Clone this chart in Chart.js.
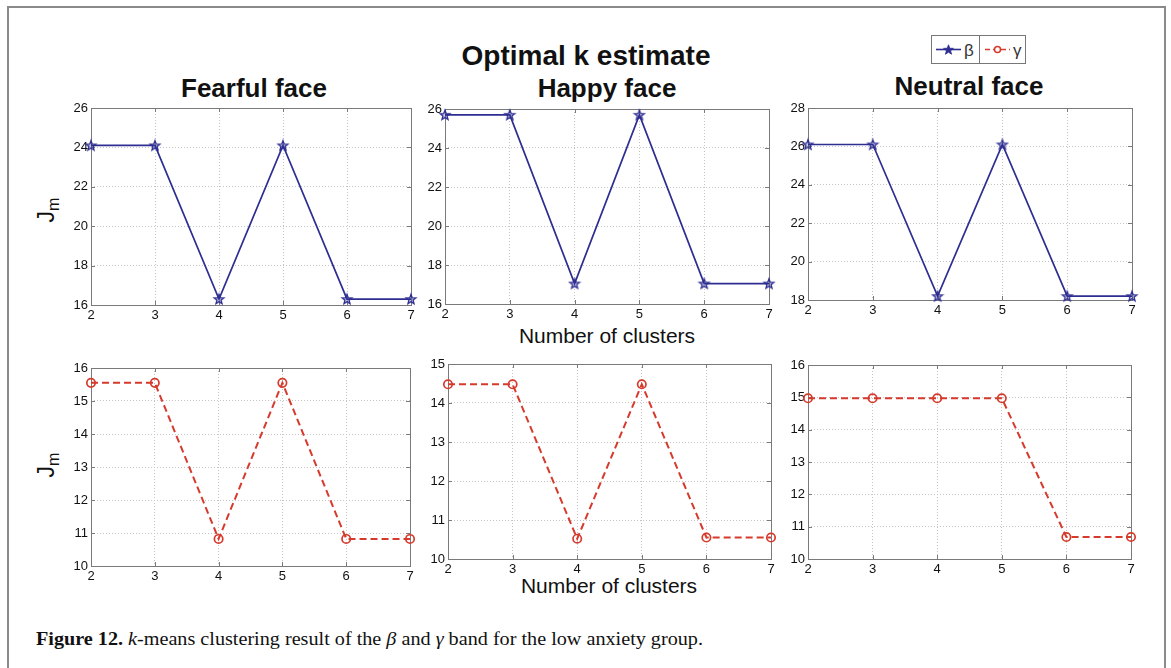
<!DOCTYPE html>
<html><head><meta charset="utf-8">
<script src="https://cdn.jsdelivr.net/npm/chart.js@4.4.0/dist/chart.umd.min.js"></script>
<style>
html,body{margin:0;padding:0;background:#fff;width:1171px;height:668px;overflow:hidden;}
#page{position:relative;width:1171px;height:668px;}
canvas{position:absolute;}
svg{position:absolute;left:0;top:0;}
</style></head><body><div id="page">
<svg width="1171" height="668" font-family="'Liberation Sans', Arial, sans-serif">
  <rect x="8" y="7" width="1157" height="720" fill="none" stroke="#8a8a8a" stroke-width="2"/>
  <text x="586" y="65" text-anchor="middle" font-size="28" font-weight="bold" fill="#111">Optimal k estimate</text>
  <text x="254" y="97" text-anchor="middle" font-size="26" font-weight="bold" fill="#111">Fearful face</text>
  <text x="607" y="97" text-anchor="middle" font-size="26" font-weight="bold" fill="#111">Happy face</text>
  <text x="969" y="95" text-anchor="middle" font-size="26" font-weight="bold" fill="#111">Neutral face</text>
  <text x="607" y="343" text-anchor="middle" font-size="21" fill="#111">Number of clusters</text>
  <text x="609" y="593" text-anchor="middle" font-size="21" fill="#111">Number of clusters</text>
  <text transform="translate(54,210) rotate(-90)" text-anchor="middle" font-size="23" fill="#111">J<tspan dy="5" font-size="16">m</tspan></text>
  <text transform="translate(54,465) rotate(-90)" text-anchor="middle" font-size="23" fill="#111">J<tspan dy="5" font-size="16">m</tspan></text>
  <!-- legend -->
  <rect x="931.5" y="35.5" width="94" height="28" fill="#fff" stroke="#777" stroke-width="1"/>
  <line x1="979.5" y1="35.5" x2="979.5" y2="63.5" stroke="#777" stroke-width="1"/>
  <line x1="936" y1="49.5" x2="961" y2="49.5" stroke="#2e2e92" stroke-width="1.6"/>
  <polygon id="lstar" fill="#2e2e92" stroke="#2e2e92" stroke-width="0.8" points=""/>
  <text x="964" y="56" font-size="17" fill="#333">β</text>
  <line x1="985" y1="49.5" x2="1010" y2="49.5" stroke="#d63a2c" stroke-width="1.6" stroke-dasharray="5,3"/>
  <circle cx="997.5" cy="49.5" r="3" fill="#fff" stroke="#d63a2c" stroke-width="1.5"/>
  <text x="1013" y="56" font-size="17" fill="#333">γ</text>
  <text x="36" y="645" font-family="'Liberation Serif', 'Times New Roman', serif" font-size="18" fill="#111" textLength="667" lengthAdjust="spacingAndGlyphs"><tspan font-weight="bold">Figure 12.</tspan> <tspan font-style="italic">k</tspan>-means clustering result of the <tspan font-style="italic">β</tspan> and <tspan font-style="italic">γ</tspan> band for the low anxiety group.</text>
</svg>
</div>
<script>
// ---- data ----
const clusters = ['2', '3', '4', '5', '6', '7'];
const fearfulBeta  = [24.1, 24.1, 16.3, 24.1, 16.3, 16.3];
const happyBeta    = [25.7, 25.7, 17.05, 25.7, 17.05, 17.05];
const neutralBeta  = [26.1, 26.1, 18.2, 26.1, 18.2, 18.2];
const fearfulGamma = [15.55, 15.55, 10.82, 15.55, 10.82, 10.82];
const happyGamma   = [14.48, 14.48, 10.52, 14.48, 10.55, 10.55];
const neutralGamma = [14.97, 14.97, 14.97, 14.97, 10.68, 10.68];
// y axis [min, max, step]
const fearfulBetaAxis  = [16, 26, 2];
const happyBetaAxis    = [16, 26, 2];
const neutralBetaAxis  = [18, 28, 2];
const fearfulGammaAxis = [10, 16, 1];
const happyGammaAxis   = [10, 15, 1];
const neutralGammaAxis = [10, 16, 1];

// legend star
(function(){
  const pts=[]; for(let i=0;i<10;i++){const r=i%2?2.2:5.2;const a=-Math.PI/2+i*Math.PI/5;pts.push((948.5+r*Math.cos(a)).toFixed(2)+','+(50+r*Math.sin(a)).toFixed(2));}
  document.getElementById('lstar').setAttribute('points',pts.join(' '));
})();

function makeStar(color){
  const c=document.createElement('canvas'); c.width=c.height=14;
  const g=c.getContext('2d'); g.beginPath();
  for(let i=0;i<10;i++){const r=i%2?2.2:5.2;const a=-Math.PI/2+i*Math.PI/5;g.lineTo(7+r*Math.cos(a),7.4+r*Math.sin(a));}
  g.closePath(); g.fillStyle='rgba(46,46,146,0.25)'; g.fill(); g.strokeStyle=color; g.lineWidth=1.3; g.stroke(); return c;
}
const BETA='#2e2e92', GAMMA='#d63a2c';
const starImg = makeStar(BETA);
const FONT = "'Liberation Sans', Arial, sans-serif";

const boxPlugin = {
  id:'box',
  beforeDatasetsDraw(chart){
    const {ctx, chartArea:a, scales} = chart;
    ctx.save();
    ctx.strokeStyle='#7a7a7a'; ctx.lineWidth=1;
    ctx.strokeRect(Math.round(a.left)+0.5, Math.round(a.top)+0.5, Math.round(a.right-a.left), Math.round(a.bottom-a.top));
    ctx.beginPath();
    scales.x.ticks.forEach((t,i)=>{const x=Math.round(scales.x.getPixelForTick(i))+0.5; ctx.moveTo(x,a.bottom); ctx.lineTo(x,a.bottom-4); ctx.moveTo(x,a.top); ctx.lineTo(x,a.top+4);});
    scales.y.ticks.forEach((t,i)=>{const y=Math.round(scales.y.getPixelForTick(i))+0.5; ctx.moveTo(a.left,y); ctx.lineTo(a.left+4,y); ctx.moveTo(a.right,y); ctx.lineTo(a.right-4,y);});
    ctx.stroke(); ctx.restore();
  }
};

function dataset(values, kind){
  if(kind==='beta') return {data:values, borderColor:BETA, borderWidth:1.7, pointStyle:starImg, tension:0, clip:false};
  return {data:values, borderColor:GAMMA, borderWidth:2, borderDash:[7,4], pointStyle:'circle', pointRadius:4.2,
          pointBorderWidth:1.7, pointBorderColor:GAMMA, pointBackgroundColor:'rgba(255,255,255,0)', tension:0, clip:false};
}

function makePanel(box, values, kind, axis){
  const [L,T,R,B] = box;
  const c = document.createElement('canvas');
  c.width = R-L+52; c.height = B-T+36;
  c.style.left = (L-40)+'px'; c.style.top = (T-12)+'px';
  document.getElementById('page').appendChild(c);
  new Chart(c, {
    type:'line',
    data:{labels:clusters, datasets:[dataset(values, kind)]},
    options:{
      responsive:false, animation:false, events:[],
      layout:{padding:{top:12,right:12,left:0,bottom:0}},
      plugins:{legend:{display:false}, tooltip:{enabled:false}, title:{display:false}},
      scales:{
        x:{offset:false, afterFit(s){s.height=24;},
           grid:{color:'#c4c4c4', lineWidth:1, drawTicks:false},
           border:{display:false, dash:[1,2]},
           ticks:{color:'#111', font:{family:FONT,size:13}, padding:3, maxRotation:0, autoSkip:false}},
        y:{min:axis[0], max:axis[1], afterFit(s){s.width=40;},
           grid:{color:'#c4c4c4', lineWidth:1, drawTicks:false},
           border:{display:false, dash:[1,2]},
           ticks:{stepSize:axis[2], color:'#111', font:{family:FONT,size:13}, padding:3}}
      }
    },
    plugins:[boxPlugin]
  });
}

makePanel([91,108,411,305], fearfulBeta, 'beta', fearfulBetaAxis);
makePanel([445,109,769,304], happyBeta, 'beta', happyBetaAxis);
makePanel([808,108,1132,300], neutralBeta, 'beta', neutralBetaAxis);
makePanel([91,368,410,566], fearfulGamma, 'gamma', fearfulGammaAxis);
makePanel([448,364,771,559], happyGamma, 'gamma', happyGammaAxis);
makePanel([808,365,1131,559], neutralGamma, 'gamma', neutralGammaAxis);
</script>
</body></html>
